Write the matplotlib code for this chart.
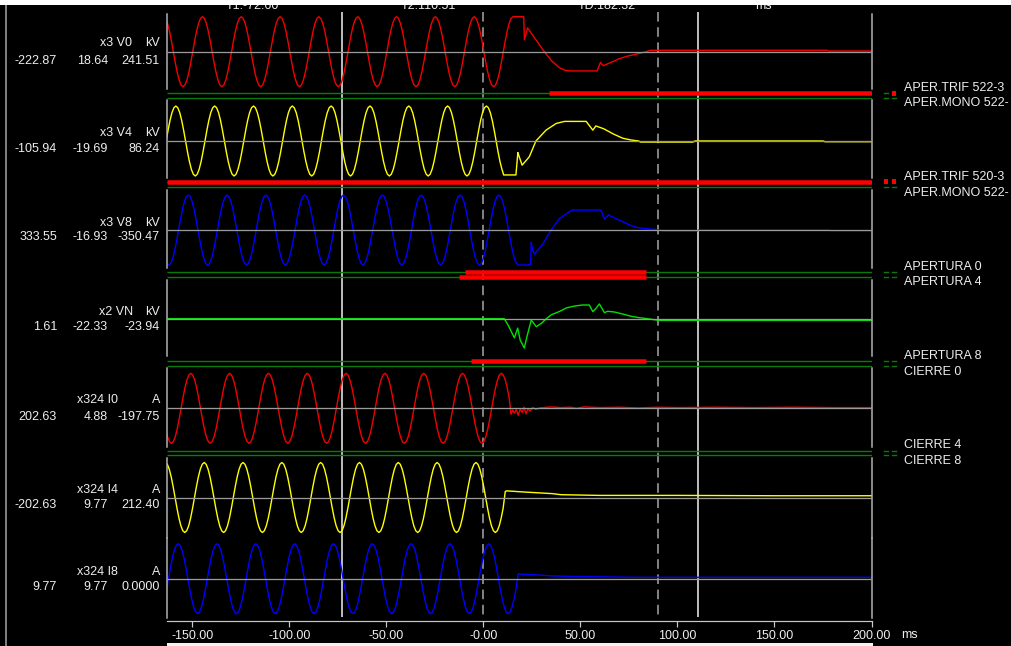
import numpy as np
import matplotlib
matplotlib.use("Agg")
import matplotlib.pyplot as plt
from matplotlib.patches import Rectangle

plt.rcParams['font.family'] = ['Liberation Sans', 'DejaVu Sans']

W, H, DPI = 1012, 646, 100
PX = 72.0 / DPI  # points per pixel

# ------------------------------------------------------------------ data
T_MIN, T_MAX = -162.7, 200.5       # ms shown on the time axis
STEP_MS = 1.0                      # sample step of the pre-fault records
CURSOR_T1, CURSOR_T2 = -72.60, 110.51
MARK_LINES = [0.0, 90.0]
TICKS = [-150, -100, -50, 0, 50, 100, 150, 200]
TICK_LABELS = ["-150.00", "-100.00", "-50.00", "-0.00", "50.00", "100.00", "150.00", "200.00"]
TOP_LABELS = ["T1:-72.60", "T2:110.51", "TD:182.32", "ms"]

# analog channels (values in % of full deflection)
V0_START = -164.7
V0_PRE = [100, 95, 81, 59, 31, 0, -31, -59, -81, -95, -100, -95, -81, -59, -31, 0, 31, 59, 81, 95,
          100, 95, 81, 59, 31, 0, -31, -59, -81, -95, -100, -95, -81, -59, -31, 0, 31, 59, 81, 95,
          100, 95, 81, 59, 31, 0, -31, -59, -81, -95, -100, -95, -81, -59, -31, 0, 31, 59, 81, 95,
          100, 95, 81, 59, 31, 0, -31, -59, -81, -95, -100, -95, -81, -59, -31, 0, 31, 59, 81, 95,
          100, 95, 81, 59, 31, 0, -31, -59, -81, -95, -100, -95, -81, -59, -31, 0, 31, 59, 81, 95,
          100, 95, 81, 59, 31, 0, -31, -59, -81, -95, -100, -95, -81, -59, -31, 0, 31, 59, 81, 95,
          100, 95, 81, 59, 31, 0, -31, -59, -81, -95, -100, -95, -81, -59, -31, 0, 31, 59, 81, 95,
          100, 95, 81, 59, 31, 0, -31, -59, -81, -95, -100, -95, -81, -59, -31, 0, 31, 59, 81, 95,
          100, 95, 81, 59, 31, 0, -31, -59, -81, -95, -100, -95, -81, -59, -31, 0, 31, 59, 81, 95]
V0_POST_T = [15.3, 20.8, 21.2, 22.8, 27.0, 31.0, 35.0, 39.0, 42.0, 45.0, 58.6, 60.3, 61.8,
             66.0, 70.0, 74.0, 78.0, 84.0, 86.0, 177.0, 178.0, 200.5]
V0_POST_V = [100, 100, 34, 68, 35, 3, -25, -45, -53, -55, -55, -31, -40,
             -30, -20, -13, -8, 0, 4, 4, 2, 2]

V4_START = -168.4
V4_PRE = [-100, -95, -81, -59, -31, 0, 31, 59, 81, 95, 100, 95, 81, 59, 31, 0, -31, -59, -81, -95,
          -100, -95, -81, -59, -31, 0, 31, 59, 81, 95, 100, 95, 81, 59, 31, 0, -31, -59, -81, -95,
          -100, -95, -81, -59, -31, 0, 31, 59, 81, 95, 100, 95, 81, 59, 31, 0, -31, -59, -81, -95,
          -100, -95, -81, -59, -31, 0, 31, 59, 81, 95, 100, 95, 81, 59, 31, 0, -31, -59, -81, -95,
          -100, -95, -81, -59, -31, 0, 31, 59, 81, 95, 100, 95, 81, 59, 31, 0, -31, -59, -81, -95,
          -100, -95, -81, -59, -31, 0, 31, 59, 81, 95, 100, 95, 81, 59, 31, 0, -31, -59, -81, -95,
          -100, -95, -81, -59, -31, 0, 31, 59, 81, 95, 100, 95, 81, 59, 31, 0, -31, -59, -81, -95,
          -100, -95, -81, -59, -31, 0, 31, 59, 81, 95, 100, 95, 81, 59, 31, 0, -31, -59, -81, -95,
          -100, -95, -81, -59, -31, 0, 31, 59, 81, 95, 100]
V4_POST_T = [2.6, 3.6, 4.6, 5.6, 6.6, 7.6, 8.6, 9.6, 10.5, 16.8, 17.8, 18.2, 20.0, 23.7, 27.1,
             32.3, 37.5, 41.8, 53.0, 56.4, 58.0, 62.0, 67.0, 71.8, 76.0, 80.0, 81.0, 108.0,
             109.0, 175.0, 176.0, 200.5]
V4_POST_V = [95, 81, 59, 31, 0, -31, -59, -81, -97, -97, -33, -40, -69, -45, 0,
             31, 50, 56, 56, 31, 43, 35, 20, 8, 3, 0, -3, -3,
             0, 0, -2, -2]

V8_START = -164.0
V8_PRE = [-81, -95, -100, -95, -81, -59, -31, 0, 31, 59, 81, 95, 100, 95, 81, 59, 31, 0, -31, -59,
          -81, -95, -100, -95, -81, -59, -31, 0, 31, 59, 81, 95, 100, 95, 81, 59, 31, 0, -31, -59,
          -81, -95, -100, -95, -81, -59, -31, 0, 31, 59, 81, 95, 100, 95, 81, 59, 31, 0, -31, -59,
          -81, -95, -100, -95, -81, -59, -31, 0, 31, 59, 81, 95, 100, 95, 81, 59, 31, 0, -31, -59,
          -81, -95, -100, -95, -81, -59, -31, 0, 31, 59, 81, 95, 100, 95, 81, 59, 31, 0, -31, -59,
          -81, -95, -100, -95, -81, -59, -31, 0, 31, 59, 81, 95, 100, 95, 81, 59, 31, 0, -31, -59,
          -81, -95, -100, -95, -81, -59, -31, 0, 31, 59, 81, 95, 100, 95, 81, 59, 31, 0, -31, -59,
          -81, -95, -100, -95, -81, -59, -31, 0, 31, 59, 81, 95, 100, 95, 81, 59, 31, 0, -31, -59,
          -81, -95, -100, -95, -81, -59, -31, 0, 31, 59, 81, 95, 100, 95, 81, 59, 31, 0, -31, -59,
          -81, -95, -100]
V8_POST_T = [23.3, 24.4, 24.7, 25.3, 26.3, 30.6, 34.9, 39.3, 44.3, 46.0, 60.6, 62.4, 64.6,
             68.0, 71.8, 75.0, 78.7, 83.0, 88.1, 93.3, 110.0, 111.0, 178.0, 179.0, 200.5]
V8_POST_V = [-100, -97, -35, -55, -69, -41, 0, 33, 52, 57, 57, 31, 43,
             33, 24, 15, 8, 4, 2, -3, -3, 0, 0, -2, -2]

VN_T = [-164.7, 10.8, 13.0, 16.0, 17.7, 19.0, 21.1, 22.5, 24.7, 27.3, 30.0, 32.3, 35.0, 39.0,
        43.0, 47.0, 51.0, 54.6, 56.4, 58.0, 59.8, 62.4, 64.0, 67.5, 72.0, 76.0, 80.0, 83.0,
        90.7, 200.5]
VN_V = [1, 1, -20, -54, -26, -60, -83, -50, -3, -22, -12, 0, 12, 21,
        32, 37, 40, 40, 21, 30, 43, 18, 22, 20, 14, 8, 4, 2,
        -4, -4]

I0_START = -164.7
I0_PRE = [-31, -59, -81, -95, -100, -95, -81, -59, -31, 0, 31, 59, 81, 95, 100, 95, 81, 59, 31, 0,
          -31, -59, -81, -95, -100, -95, -81, -59, -31, 0, 31, 59, 81, 95, 100, 95, 81, 59, 31, 0,
          -31, -59, -81, -95, -100, -95, -81, -59, -31, 0, 31, 59, 81, 95, 100, 95, 81, 59, 31, 0,
          -31, -59, -81, -95, -100, -95, -81, -59, -31, 0, 31, 59, 81, 95, 100, 95, 81, 59, 31, 0,
          -31, -59, -81, -95, -100, -95, -81, -59, -31, 0, 31, 59, 81, 95, 100, 95, 81, 59, 31, 0,
          -31, -59, -81, -95, -100, -95, -81, -59, -31, 0, 31, 59, 81, 95, 100, 95, 81, 59, 31, 0,
          -31, -59, -81, -95, -100, -95, -81, -59, -31, 0, 31, 59, 81, 95, 100, 95, 81, 59, 31, 0,
          -31, -59, -81, -95, -100, -95, -81, -59, -31, 0, 31, 59, 81, 95, 100, 95, 81, 59, 31, 0,
          -31, -59, -81, -95, -100, -95, -81, -59, -31, 0, 31, 59, 81, 95, 100]
I0_POST_T = [10.3, 11.3, 12.3, 13.3, 14.3, 15.2, 16.0, 17.0, 18.0, 19.0, 20.0, 21.0, 22.0, 23.0,
             24.0, 25.5, 27.0, 29.0, 35.0, 40.0, 45.0, 48.0, 52.0, 60.0, 70.0, 80.0, 90.0, 100.0,
             120.0, 140.0, 160.0, 180.0, 200.5]
I0_POST_V = [95, 81, 59, 31, -17, -5, -14, -3, -20, -2, -12, 3, -16, -1,
             -8, 2, -3, 1, 4, 2, 3, 0, 4, 2, 3, 1, 3, 2,
             3, 2, 3, 2, 2]

I4_START = -163.8
I4_PRE = [100, 95, 81, 59, 31, 0, -31, -59, -81, -95, -100, -95, -81, -59, -31, 0, 31, 59, 81, 95,
          100, 95, 81, 59, 31, 0, -31, -59, -81, -95, -100, -95, -81, -59, -31, 0, 31, 59, 81, 95,
          100, 95, 81, 59, 31, 0, -31, -59, -81, -95, -100, -95, -81, -59, -31, 0, 31, 59, 81, 95,
          100, 95, 81, 59, 31, 0, -31, -59, -81, -95, -100, -95, -81, -59, -31, 0, 31, 59, 81, 95,
          100, 95, 81, 59, 31, 0, -31, -59, -81, -95, -100, -95, -81, -59, -31, 0, 31, 59, 81, 95,
          100, 95, 81, 59, 31, 0, -31, -59, -81, -95, -100, -95, -81, -59, -31, 0, 31, 59, 81, 95,
          100, 95, 81, 59, 31, 0, -31, -59, -81, -95, -100, -95, -81, -59, -31, 0, 31, 59, 81, 95,
          100, 95, 81, 59, 31, 0, -31, -59, -81, -95, -100, -95, -81, -59, -31, 0, 31, 59, 81, 95,
          100, 95, 81, 59, 31, 0, -31, -59, -81, -95, -100]
I4_POST_T = [7.2, 8.2, 9.2, 10.2, 11.3, 12.0, 20.0, 30.0, 35.7, 40.0, 60.0, 100.0, 150.0, 200.5]
I4_POST_V = [-95, -81, -59, -31, 17, 19, 16, 13, 11, 8, 6, 6, 5, 5]

I8_START = -165.2
I8_PRE = [-81, -59, -31, 0, 31, 59, 81, 95, 100, 95, 81, 59, 31, 0, -31, -59, -81, -95, -100, -95,
          -81, -59, -31, 0, 31, 59, 81, 95, 100, 95, 81, 59, 31, 0, -31, -59, -81, -95, -100, -95,
          -81, -59, -31, 0, 31, 59, 81, 95, 100, 95, 81, 59, 31, 0, -31, -59, -81, -95, -100, -95,
          -81, -59, -31, 0, 31, 59, 81, 95, 100, 95, 81, 59, 31, 0, -31, -59, -81, -95, -100, -95,
          -81, -59, -31, 0, 31, 59, 81, 95, 100, 95, 81, 59, 31, 0, -31, -59, -81, -95, -100, -95,
          -81, -59, -31, 0, 31, 59, 81, 95, 100, 95, 81, 59, 31, 0, -31, -59, -81, -95, -100, -95,
          -81, -59, -31, 0, 31, 59, 81, 95, 100, 95, 81, 59, 31, 0, -31, -59, -81, -95, -100, -95,
          -81, -59, -31, 0, 31, 59, 81, 95, 100, 95, 81, 59, 31, 0, -31, -59, -81, -95, -100, -95,
          -81, -59, -31, 0, 31, 59, 81, 95, 100, 95, 81, 59, 31, 0, -31, -59, -81, -95, -100]
I8_POST_T = [13.8, 14.8, 15.8, 16.8, 18.0, 20.0, 30.0, 35.0, 50.0, 80.0, 120.0, 200.5]
I8_POST_V = [-95, -81, -59, -31, 14, 13, 10, 8, 6, 4, 4, 4]

CH_NAMES = ["x3 V0", "x3 V4", "x3 V8", "x2 VN", "x324 I0", "x324 I4", "x324 I8"]
CH_UNITS = ["kV", "kV", "kV", "kV", "A", "A", "A"]
CH_AT_T1 = ["-222.87", "-105.94", "333.55", "1.61", "202.63", "-202.63", "9.77"]
CH_AT_T2 = ["18.64", "-19.69", "-16.93", "-22.33", "4.88", "9.77", "9.77"]
CH_DELTA = ["241.51", "86.24", "-350.47", "-23.94", "-197.75", "212.40", "0.0000"]
CH_COLORS = ["#f00000", "#ffff00", "#0000ff", "#00e000", "#f00000", "#ffff00", "#0000ff"]

# digital channels
DIG_NAMES = ["APER.TRIF 522-3", "APER.MONO 522-", "APER.TRIF 520-3", "APER.MONO 522-",
             "APERTURA 0", "APERTURA 4", "APERTURA 8", "CIERRE 0", "CIERRE 4", "CIERRE 8"]
DIG_ON_START = [34.0, None, -162.7, None, -9.4, -12.4, -6.2, None, None, None]
DIG_ON_END = [200.5, None, 200.5, None, 84.0, 84.0, 84.0, None, None, None]


def series(start, pre, post_t, post_v):
    t = list(start + STEP_MS * np.arange(len(pre))) + list(post_t)
    return np.array(t), np.array(list(pre) + list(post_v), dtype=float)


TRACES = [
    series(V0_START, V0_PRE, V0_POST_T, V0_POST_V),
    series(V4_START, V4_PRE, V4_POST_T, V4_POST_V),
    series(V8_START, V8_PRE, V8_POST_T, V8_POST_V),
    (np.array(VN_T), np.array(VN_V, dtype=float)),
    series(I0_START, I0_PRE, I0_POST_T, I0_POST_V),
    series(I4_START, I4_PRE, I4_POST_T, I4_POST_V),
    series(I8_START, I8_PRE, I8_POST_T, I8_POST_V),
]

# ------------------------------------------------------------------ layout (pixels)
X0, X1 = 167.5, 872.5
PANELS = [(14, 89, 51.7), (100, 178, 141.0), (190, 268, 230.0), (280, 356, 319.0),
          (368, 447, 408.3), (458, 538, 497.5), (538, 618, 578.7)]
AMP_PX = 35.0          # pixels for 100 %
NAME_RIGHT = [132, 132, 132, 133, 118, 118, 118]
NAME_Y = [43.3, 133.3, 222.7, 311.7, 400.0, 490.0, 571.7]
VALUE_Y = [60.7, 149.3, 236.7, 326.7, 416.7, 505.0, 586.7]
DIG_Y = [93.3, 98.3, 181.5, 186.5, 271.5, 276.5, 360.5, 366.0, 450.7, 455.3]
DIG_LABEL_Y = [88.3, 103.3, 177.3, 193.3, 266.7, 282.3, 356.0, 371.7, 445.0, 460.7]
TEXT_C = "#eeeeee"
DIG_GREEN = "#0a7a0a"
FS = 9


def px_rect(x0, y0, x1, y1):
    return [x0 / W, 1 - y1 / H, (x1 - x0) / W, (y1 - y0) / H]


fig = plt.figure(figsize=(W / DPI, H / DPI), dpi=DPI, facecolor="black")

# background axes: time in ms horizontally, pixel rows vertically
bg = fig.add_axes(px_rect(X0, 0, X1, H))
bg.set_facecolor("black")
bg.set_xlim(T_MIN, T_MAX)
bg.set_ylim(H, 0)
for s in ("left", "right", "top"):
    bg.spines[s].set_visible(False)
bg.spines["bottom"].set_position(("data", 620.7))
bg.spines["bottom"].set_color("#c8c8c8")
bg.spines["bottom"].set_linewidth(1.2 * PX)
bg.set_yticks([])
bg.set_xticks(TICKS)
bg.set_xticklabels(TICK_LABELS)
bg.tick_params(axis="x", direction="out", length=6 * PX, width=1.2 * PX, color="#c8c8c8",
               labelcolor=TEXT_C, labelsize=FS, pad=2.5)

# cursors and marks
bg.vlines([CURSOR_T1, CURSOR_T2], 12, 617, colors="#b8b8b8", linewidth=2.0 * PX, zorder=1)
bg.vlines(MARK_LINES, 12, 617, colors="#a0a0a0", linewidth=1.6 * PX,
          linestyles=(0, (6, 3.5)), zorder=1)

# digital rows
for i, y in enumerate(DIG_Y):
    bg.hlines(y, T_MIN, T_MAX, colors=DIG_GREEN, linewidth=1.4 * PX, zorder=2)
    if DIG_ON_START[i] is not None:
        bg.hlines(y, DIG_ON_START[i], DIG_ON_END[i], colors="#ff0000", linewidth=4.5 * PX, zorder=3)

# analog channels
for i, (top, bot, ctr) in enumerate(PANELS):
    ax = fig.add_axes(px_rect(X0, top, X1, bot))
    ax.patch.set_alpha(0)
    ax.set_xlim(T_MIN, T_MAX)
    ax.set_ylim(-(bot - ctr) / AMP_PX * 100, (ctr - top) / AMP_PX * 100)
    ax.set_xticks([])
    ax.set_yticks([])
    for s in ("top", "bottom"):
        ax.spines[s].set_visible(False)
    for s in ("left", "right"):
        ax.spines[s].set_color("#b4b4b4")
        ax.spines[s].set_linewidth(1.5 * PX)
    t, v = TRACES[i]
    ax.plot(t, v, color=CH_COLORS[i], linewidth=1.4 * PX, zorder=2)
    ax.axhline(0, color="#9a9a9a", linewidth=1.3 * PX, zorder=3)

# overlay in pixel coordinates for texts and decorations
ov = fig.add_axes([0, 0, 1, 1])
ov.set_xlim(0, W)
ov.set_ylim(H, 0)
ov.axis("off")
ov.patch.set_alpha(0)
ov.set_zorder(10)

for i in range(len(PANELS)):
    ov.text(NAME_RIGHT[i], NAME_Y[i], CH_NAMES[i], color=TEXT_C, fontsize=FS, ha="right", va="center")
    ov.text(160, NAME_Y[i], CH_UNITS[i], color=TEXT_C, fontsize=FS, ha="right", va="center")
    ov.text(57, VALUE_Y[i], CH_AT_T1[i], color=TEXT_C, fontsize=FS, ha="right", va="center")
    ov.text(108, VALUE_Y[i], CH_AT_T2[i], color=TEXT_C, fontsize=FS, ha="right", va="center")
    ov.text(160, VALUE_Y[i], CH_DELTA[i], color=TEXT_C, fontsize=FS, ha="right", va="center")

for i, y in enumerate(DIG_Y):
    ov.text(904, DIG_LABEL_Y[i], DIG_NAMES[i], color=TEXT_C, fontsize=FS, ha="left", va="center")
    for tc, xm in ((CURSOR_T1, 884), (CURSOR_T2, 892)):
        on = DIG_ON_START[i] is not None and DIG_ON_START[i] <= tc <= DIG_ON_END[i]
        if on:
            ov.add_patch(Rectangle((xm, y - 2.5), 4, 5, color="#ff0000", lw=0))
        else:
            ov.plot([xm, xm + 4], [y, y], color=DIG_GREEN, linewidth=1.4 * PX)

for txt, xc in zip(TOP_LABELS, [252, 428, 607, 763]):
    ov.text(xc, 9.3, txt, color=TEXT_C, fontsize=FS, ha="center", va="baseline")
ov.text(909, 635, "ms", color=TEXT_C, fontsize=FS, ha="center", va="center")

# window frame pieces
ov.add_patch(Rectangle((0, 0), W, 5, color="white", lw=0, zorder=20))
ov.add_patch(Rectangle((X0, 643), X1 - X0 + 0.5, 3, color="#f2f2ea", lw=0, zorder=20))
ov.plot([6, 6], [5, H], color="#a8a8a8", linewidth=1.5 * PX)

fig.savefig("out.png", dpi=DPI, facecolor="black")
